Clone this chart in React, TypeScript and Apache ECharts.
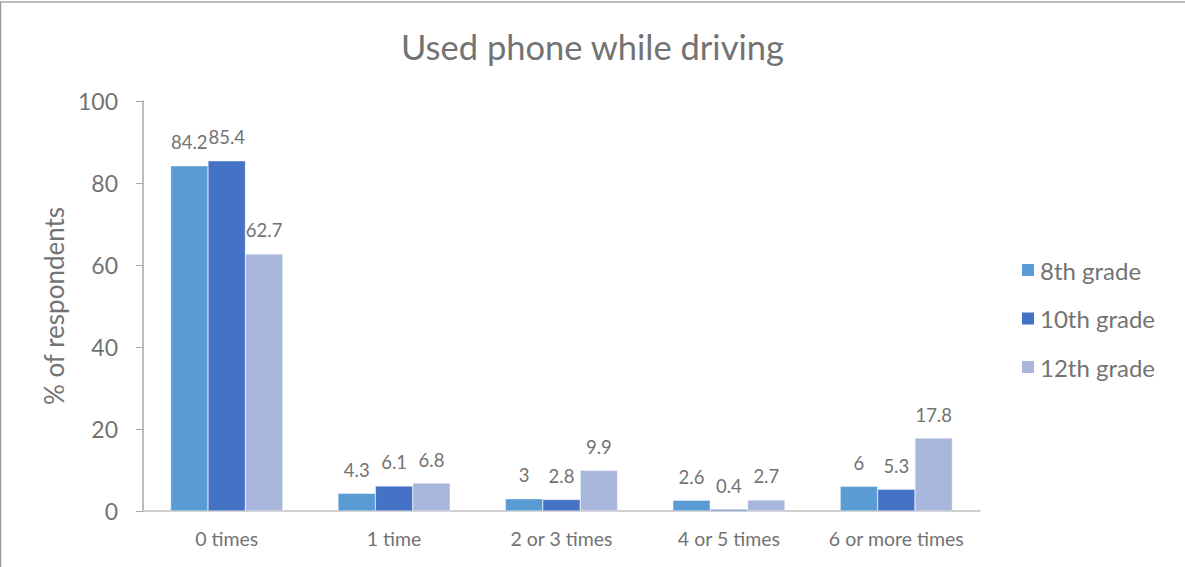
import React, { useEffect, useRef } from "react";
import * as echarts from "echarts";

const categories = ["0 times", "1 time", "2 or 3 times", "4 or 5 times", "6 or more times"];
const seriesNames = ["8th grade", "10th grade", "12th grade"];
const grade8 = [84.2, 4.3, 3, 2.6, 6];
const grade10 = [85.4, 6.1, 2.8, 0.4, 5.3];
const grade12 = [62.7, 6.8, 9.9, 2.7, 17.8];
const colors = ["#5B9BD5", "#4472C4", "#A9B6DB"];

const FONT = "Lato, 'Open Sans', sans-serif";
const TXT = "#737373";

export default function App() {
  const ref = useRef<HTMLDivElement>(null);
  useEffect(() => {
    document.body.style.margin = "0";
    const chart = echarts.init(ref.current!, null, { renderer: "svg" });
    const values = [grade8, grade10, grade12];
    chart.setOption({
      animation: false,
      backgroundColor: "#ffffff",
      textStyle: { fontFamily: FONT },
      title: {
        text: "Used phone while driving",
        left: "center",
        top: 24,
        textStyle: { fontSize: 34.5, fontWeight: "normal", color: TXT, fontFamily: FONT },
      },
      legend: {
        orient: "vertical",
        left: 1015,
        top: 251,
        itemWidth: 14,
        itemHeight: 14,
        itemGap: 20.5,
        icon: "rect",
        textStyle: { fontSize: 24, color: TXT, lineHeight: 28, fontFamily: FONT },
        data: seriesNames,
      },
      grid: { left: 143, right: 205, top: 101, bottom: 56 },
      xAxis: {
        type: "category",
        data: categories,
        axisLine: { lineStyle: { color: "#bfbfbf", width: 1.5 } },
        axisTick: { show: false },
        axisLabel: { fontSize: 19.5, color: TXT, margin: 17, interval: 0, fontFamily: FONT },
      },
      yAxis: {
        type: "value",
        min: 0,
        max: 100,
        interval: 20,
        name: "% of respondents",
        nameLocation: "middle",
        nameGap: 75,
        nameTextStyle: { fontSize: 26, color: TXT, fontFamily: FONT },
        axisLine: { show: true, lineStyle: { color: "#a6a6a6", width: 1.5 } },
        axisTick: { show: true, length: 7, lineStyle: { color: "#a6a6a6" } },
        axisLabel: { fontSize: 23, color: TXT, margin: 25, fontFamily: FONT },
        splitLine: { show: false },
      },
      graphic: [
        { type: "line", shape: { x1: 0.5, y1: 2, x2: 0.5, y2: 567 }, style: { stroke: "#9a9a9a", lineWidth: 1.5 } },
        { type: "line", shape: { x1: 0, y1: 2, x2: 1185, y2: 2 }, style: { stroke: "#a6a6a6", lineWidth: 1.5 } },
      ],
      series: seriesNames.map((name, i) => ({
        name,
        type: "bar",
        data: values[i],
        barGap: "0%",
        barCategoryGap: "33%",
        itemStyle: { color: colors[i], borderColor: "#ffffff", borderWidth: 0.4 },
        label: {
          show: true,
          position: "top",
          distance: 14,
          fontSize: 18.5,
          color: TXT,
          fontFamily: FONT,
        },
      })),
    });
    return () => chart.dispose();
  }, []);
  return <div ref={ref} style={{ width: 1185, height: 567 }} />;
}
